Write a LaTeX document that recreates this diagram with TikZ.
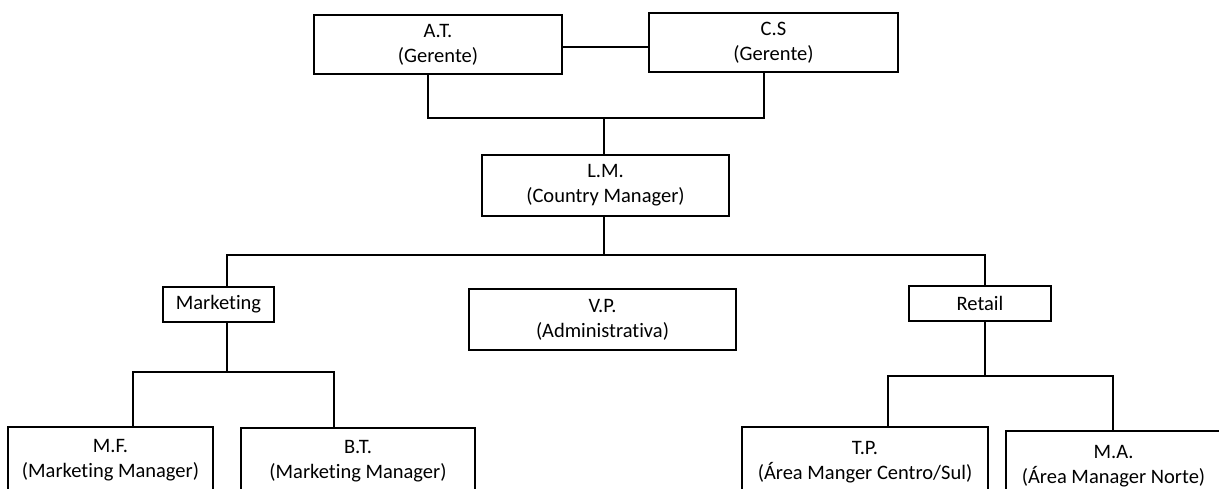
\documentclass[tikz,border=0pt]{standalone}
\usepackage{fontspec}
\setmainfont[Ligatures=NoCommon]{Carlito}
\begin{document}
\begin{tikzpicture}[x=1pt,y=-1pt,
  box/.style={draw=black,line width=1.6pt,inner sep=0pt,align=center,text=black,
    font=\fontsize{20.5}{25}\selectfont},
  link/.style={draw=black,line width=1.6pt}]
\useasboundingbox (0,0) rectangle (1219,488);
\clip (0,0) rectangle (1219,488);
\node[box,minimum width=248pt,minimum height=59pt] (AT) at (438,44.5) {A.T.\\(Gerente)};
\node[box,minimum width=249pt,minimum height=59pt] (CS) at (773.5,42.5) {C.S\\(Gerente)};
\node[box,minimum width=247pt,minimum height=61pt] (LM) at (605.5,185.5) {L.M.\\(Country Manager)};
\node[box,minimum width=267pt,minimum height=61pt] (VP) at (602.5,319.5) {V.P.\\(Administrativa)};
\node[box,minimum width=111pt,minimum height=35pt] (Mk) at (218.5,304.5) {Marketing};
\node[box,minimum width=142pt,minimum height=35pt] (Rt) at (980,303.5) {Retail};
\node[box,minimum width=205pt,minimum height=66pt] (MF) at (110.5,460) {M.F.\\(Marketing Manager)};
\node[box,minimum width=234pt,minimum height=66pt] (BT) at (358,461) {B.T.\\(Marketing Manager)};
\node[box,minimum width=246pt,minimum height=70pt] (TP) at (865,462) {T.P.\\(Área Manger Centro/Sul)};
\node[box,minimum width=215pt,minimum height=70pt] (MA) at (1113.5,466) {M.A.\\(Área Manager Norte)};
% top bus
\coordinate (j1) at (604,118);
\coordinate (h1) at (0,47);
\draw[link] (AT.east |- h1) -- (CS.west |- h1);
\draw[link] ([xshift=-10pt]AT.south) |- (j1) -| ([xshift=-9.5pt]CS.south);
\draw[link] (j1) -- (LM.north -| j1);
% second level
\coordinate (j2) at (604,255);
\coordinate (b2L) at (227,255);
\coordinate (b2R) at (985,255);
\draw[link] (LM.south -| j2) -- (j2);
\draw[link] (Mk.north -| b2L) -- (b2L) -- (b2R) -- (Rt.north -| b2R);
% marketing
\coordinate (j3) at (227,372);
\coordinate (b3L) at (133,372);
\coordinate (b3R) at (334,372);
\draw[link] (Mk.south -| j3) -- (j3);
\draw[link] (MF.north -| b3L) -- (b3L) -- (b3R) -- (BT.north -| b3R);
% retail
\coordinate (j4) at (985,376);
\coordinate (b4L) at (888,376);
\coordinate (b4R) at (1113,376);
\draw[link] (Rt.south -| j4) -- (j4);
\draw[link] (TP.north -| b4L) -- (b4L) -- (b4R) -- (MA.north -| b4R);
\end{tikzpicture}
\end{document}
